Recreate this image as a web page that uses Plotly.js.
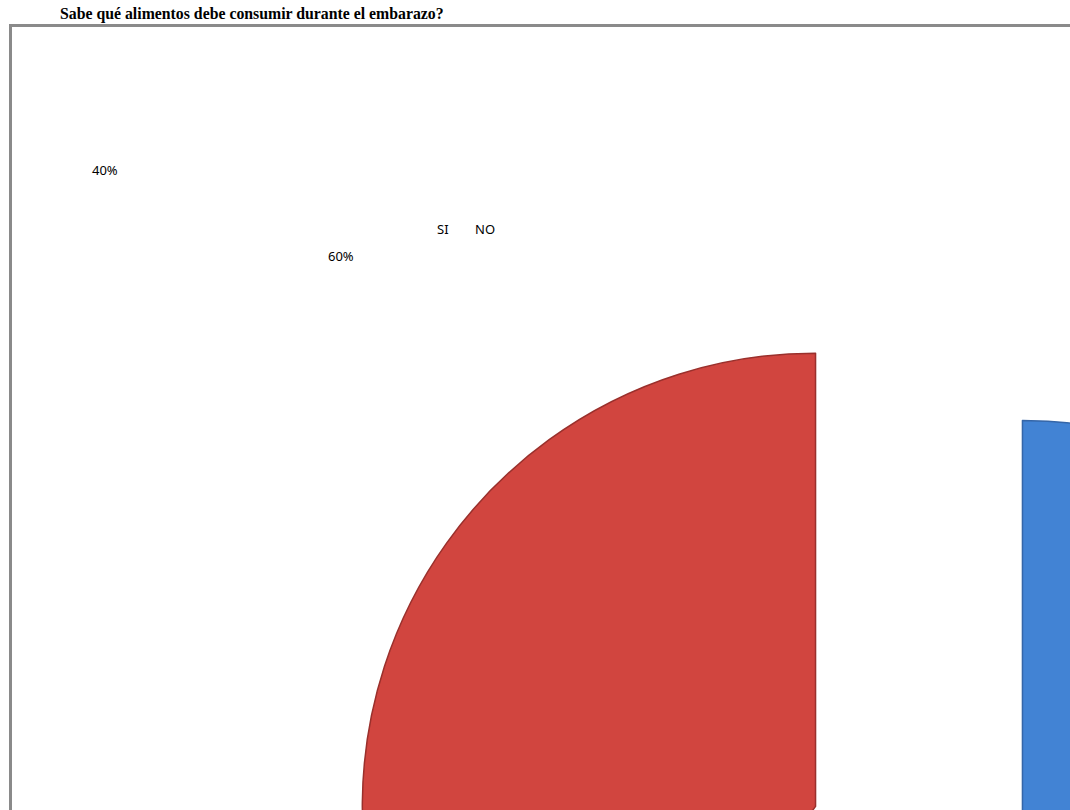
<!DOCTYPE html>
<html>
<head>
<meta charset="utf-8">
<script src="https://cdn.plot.ly/plotly-3.0.1.min.js"></script>
<style>
  html, body { margin: 0; padding: 0; overflow: hidden; background: #ffffff; }
  #chart { position: absolute; left: 0; top: 0; }
</style>
</head>
<body>
<div id="chart"></div>
<script>
// ---- data ----
const chartTitle = 'Sabe qué alimentos debe consumir durante el embarazo?';
const labels = ['SI', 'NO'];
const values = [60, 40];

// ---- styling / geometry ----
const sliceColors = ['#4283d4', '#d1453f'];
const edgeColors = ['#3566a8', '#9a302c'];
const PULL = 0.24;
const L = 357, T = 278, D = 1124;          // plot area placement (px)
const W = L + D + 60, H = T + D + 60;

function px(x) { return (x - L) / D; }
function py(y) { return 1 - (y - T) / D; }

const total = values.reduce((a, b) => a + b, 0);
const pct = values.map(v => Math.round(v / total * 100) + '%');

const trace = {
  type: 'pie',
  labels: labels,
  values: values,
  sort: false,
  direction: 'clockwise',
  rotation: 0,
  pull: [PULL, PULL],
  textinfo: 'none',
  hoverinfo: 'none',
  marker: { colors: sliceColors, line: { color: edgeColors, width: 1.5 } },
  domain: { x: [0, 1], y: [0, 1] },
  showlegend: false
};

const labelFont = { family: 'Noto Sans, Open Sans, sans-serif', size: 13, color: '#000000' };

const annotations = [
  { text: '<b>' + chartTitle + '</b>', x: px(58), y: py(14), xanchor: 'left', yanchor: 'middle',
    font: { family: 'Liberation Serif, Times New Roman, serif', size: 15.8, color: '#000000' } },
  // percentage labels (NO = 40%, SI = 60%)
  { text: pct[1], x: px(105), y: py(170), xanchor: 'center', yanchor: 'middle', font: labelFont },
  { text: pct[0], x: px(341), y: py(256), xanchor: 'center', yanchor: 'middle', font: labelFont },
  // legend entries
  { text: labels[0], x: px(443), y: py(229), xanchor: 'center', yanchor: 'middle', font: labelFont },
  { text: labels[1], x: px(485), y: py(229), xanchor: 'center', yanchor: 'middle', font: labelFont }
].map(a => Object.assign({ xref: 'paper', yref: 'paper', showarrow: false }, a));

const layout = {
  width: W,
  height: H,
  margin: { l: L, t: T, r: W - L - D, b: H - T - D },
  paper_bgcolor: '#ffffff',
  plot_bgcolor: '#ffffff',
  showlegend: false,
  annotations: annotations,
  shapes: [
    { type: 'rect', xref: 'paper', yref: 'paper', layer: 'below',
      x0: px(10.5), x1: px(W - 10), y0: py(25.5), y1: py(H - 10),
      line: { color: '#8a8a8a', width: 3 }, fillcolor: 'rgba(0,0,0,0)' }
  ]
};

Plotly.newPlot('chart', [trace], layout, { staticPlot: true, displayModeBar: false });
</script>
</body>
</html>
